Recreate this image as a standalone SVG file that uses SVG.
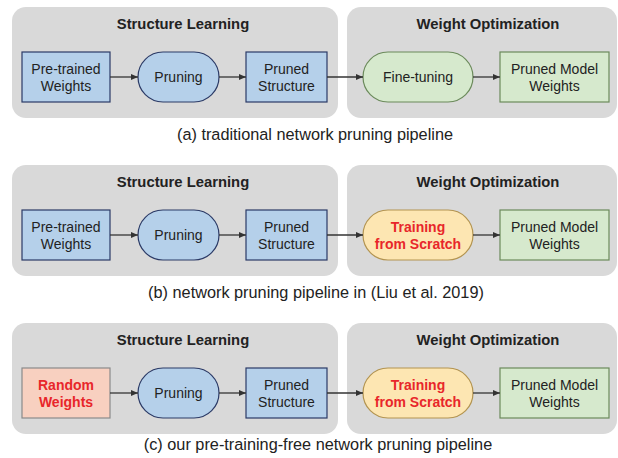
<svg xmlns="http://www.w3.org/2000/svg" width="618" height="458" viewBox="0 0 618 458">
<style>
.bg{fill:#d9d9d9;stroke:none}
.title{font-family:"Liberation Sans",Arial,sans-serif;font-size:14.8px;font-weight:bold;fill:#222;text-anchor:middle}
.t{font-family:"Liberation Sans",Arial,sans-serif;font-size:14px;fill:#222;text-anchor:middle}
.red{font-family:"Liberation Sans",Arial,sans-serif;font-size:14px;font-weight:bold;fill:#e8262a;text-anchor:middle}
.cap{font-family:"Liberation Sans",Arial,sans-serif;font-size:16.3px;fill:#222;text-anchor:middle}
.blue{fill:#b5d0ea;stroke:#2b3a66;stroke-width:1.2}
.green{fill:#d6e9cd;stroke:#6b8a5b;stroke-width:1.2}
.orange{fill:#fde6b2;stroke:#b39450;stroke-width:1.2}
.pink{fill:#f8d0c0;stroke:#8a8a8a;stroke-width:1.2}
.conn{stroke:#333;stroke-width:1.3;fill:none;marker-end:url(#ah)}
</style>
<defs>
<marker id="ah" markerWidth="8" markerHeight="8" refX="7" refY="4" orient="auto" markerUnits="userSpaceOnUse">
<path d="M0,1 L7,4 L0,7 Z" fill="#333"/>
</marker>
</defs>

<!-- Panel (a) -->
<g id="panel-a">
<rect class="bg" x="12" y="7" width="326" height="111" rx="14"/>
<rect class="bg" x="347" y="7" width="270" height="111" rx="14"/>
<text class="title" x="183" y="29">Structure Learning</text>
<text class="title" x="488" y="29">Weight Optimization</text>
<g id="a-pretrained"><rect class="blue" x="22" y="52" width="88" height="50"/><text class="t" x="66" y="74">Pre-trained</text><text class="t" x="66" y="91">Weights</text></g>
<g id="a-pruning"><rect class="blue" x="138" y="52" width="81" height="50" rx="25"/><text class="t" x="178.5" y="82">Pruning</text></g>
<g id="a-structure"><rect class="blue" x="246" y="52" width="81" height="50"/><text class="t" x="286.5" y="74">Pruned</text><text class="t" x="286.5" y="91">Structure</text></g>
<g id="a-finetune"><rect class="green" x="363" y="52" width="110" height="50" rx="25"/><text class="t" x="418" y="82">Fine-tuning</text></g>
<g id="a-model"><rect class="green" x="500" y="52" width="109" height="50"/><text class="t" x="554.5" y="74">Pruned Model</text><text class="t" x="554.5" y="91">Weights</text></g>
<text class="cap" x="315" y="140">(a) traditional network pruning pipeline</text>
</g>

<!-- Panel (b) -->
<g id="panel-b">
<rect class="bg" x="12" y="165" width="326" height="111" rx="14"/>
<rect class="bg" x="347" y="165" width="270" height="111" rx="14"/>
<text class="title" x="183" y="187">Structure Learning</text>
<text class="title" x="488" y="187">Weight Optimization</text>
<g id="b-pretrained"><rect class="blue" x="22" y="210" width="88" height="50"/><text class="t" x="66" y="232">Pre-trained</text><text class="t" x="66" y="249">Weights</text></g>
<g id="b-pruning"><rect class="blue" x="138" y="210" width="81" height="50" rx="25"/><text class="t" x="178.5" y="240">Pruning</text></g>
<g id="b-structure"><rect class="blue" x="246" y="210" width="81" height="50"/><text class="t" x="286.5" y="232">Pruned</text><text class="t" x="286.5" y="249">Structure</text></g>
<g id="b-scratch"><rect class="orange" x="363" y="210" width="110" height="50" rx="25"/><text class="red" x="418" y="232">Training</text><text class="red" x="418" y="249">from Scratch</text></g>
<g id="b-model"><rect class="green" x="500" y="210" width="109" height="50"/><text class="t" x="554.5" y="232">Pruned Model</text><text class="t" x="554.5" y="249">Weights</text></g>
<text class="cap" x="316" y="298">(b) network pruning pipeline in (Liu et al. 2019)</text>
</g>

<!-- Panel (c) -->
<g id="panel-c">
<rect class="bg" x="12" y="323" width="326" height="111" rx="14"/>
<rect class="bg" x="347" y="323" width="270" height="111" rx="14"/>
<text class="title" x="183" y="345">Structure Learning</text>
<text class="title" x="488" y="345">Weight Optimization</text>
<g id="c-random"><rect class="pink" x="22" y="368" width="88" height="50"/><text class="red" x="66" y="390">Random</text><text class="red" x="66" y="407">Weights</text></g>
<g id="c-pruning"><rect class="blue" x="138" y="368" width="81" height="50" rx="25"/><text class="t" x="178.5" y="398">Pruning</text></g>
<g id="c-structure"><rect class="blue" x="246" y="368" width="81" height="50"/><text class="t" x="286.5" y="390">Pruned</text><text class="t" x="286.5" y="407">Structure</text></g>
<g id="c-scratch"><rect class="orange" x="363" y="368" width="110" height="50" rx="25"/><text class="red" x="418" y="390">Training</text><text class="red" x="418" y="407">from Scratch</text></g>
<g id="c-model"><rect class="green" x="500" y="368" width="109" height="50"/><text class="t" x="554.5" y="390">Pruned Model</text><text class="t" x="554.5" y="407">Weights</text></g>
<text class="cap" x="318" y="450">(c) our pre-training-free network pruning pipeline</text>
</g>

<g id="connectors">
<line class="conn" x1="110" y1="77" x2="138" y2="77"/>
<line class="conn" x1="219" y1="77" x2="246" y2="77"/>
<line class="conn" x1="327" y1="77" x2="363" y2="77"/>
<line class="conn" x1="473" y1="77" x2="500" y2="77"/>
<line class="conn" x1="110" y1="235" x2="138" y2="235"/>
<line class="conn" x1="219" y1="235" x2="246" y2="235"/>
<line class="conn" x1="327" y1="235" x2="363" y2="235"/>
<line class="conn" x1="473" y1="235" x2="500" y2="235"/>
<line class="conn" x1="110" y1="393" x2="138" y2="393"/>
<line class="conn" x1="219" y1="393" x2="246" y2="393"/>
<line class="conn" x1="327" y1="393" x2="363" y2="393"/>
<line class="conn" x1="473" y1="393" x2="500" y2="393"/>
</g>
</svg>
